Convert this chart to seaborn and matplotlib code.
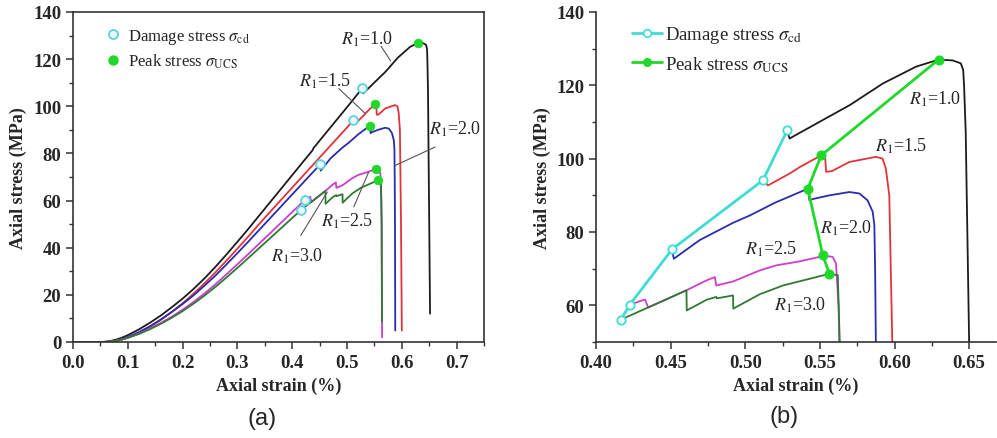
import numpy as np
import pandas as pd
import matplotlib
matplotlib.use('Agg')
import matplotlib.pyplot as plt
import seaborn as sns
from matplotlib.lines import Line2D
from matplotlib.ticker import MultipleLocator

sns.set_style('ticks')
plt.rcParams['font.family'] = ['Liberation Serif', 'DejaVu Serif']
plt.rcParams['mathtext.fontset'] = 'stix'

# ---------------- data ----------------
r_labels = ['1.0', '1.5', '2.0', '2.5', '3.0']

strain_r10 = [0.0, 0.05, 0.06, 0.07, 0.08, 0.09, 0.10, 0.12, 0.14, 0.16, 0.18, 0.20, 0.22,
              0.24, 0.26, 0.28, 0.30, 0.32, 0.34, 0.36, 0.38, 0.40, 0.42, 0.437, 0.439,
              0.47, 0.50, 0.5281, 0.5297, 0.5478, 0.570, 0.5922, 0.6145, 0.6295, 0.6389,
              0.6444, 0.646, 0.6466, 0.6477, 0.650, 0.6515]
stress_r10 = [0.0, 0.0, 0.13, 0.5, 1.1, 1.9, 2.9, 5.3, 8.1, 11.2, 14.7, 18.4, 22.5,
              27.0, 31.9, 37.1, 42.5, 48.0, 53.7, 59.4, 65.1, 70.8, 76.5, 81.3, 82.3,
              91.1, 99.6, 107.7, 105.5, 109.6, 114.6, 120.5, 125.1, 127.0, 126.8,
              126.0, 124.2, 120.0, 107.3, 50.0, 12.0]

strain_r15 = [0.0, 0.06, 0.07, 0.08, 0.09, 0.10, 0.12, 0.14, 0.16, 0.18, 0.20, 0.22, 0.24,
              0.26, 0.28, 0.30, 0.32, 0.34, 0.36, 0.38, 0.40, 0.42, 0.44, 0.46, 0.48, 0.50,
              0.5118, 0.5152, 0.530, 0.5365, 0.545, 0.5509, 0.5535, 0.5542, 0.558, 0.5698,
              0.5876, 0.592, 0.5942, 0.5965, 0.5985, 0.600]
stress_r15 = [0.0, 0.0, 0.13, 0.48, 1.03, 1.78, 3.78, 6.33, 9.33, 12.7, 16.4, 20.5, 24.9,
              29.6, 34.5, 39.6, 44.8, 50.1, 55.3, 60.4, 65.5, 70.6, 75.7, 80.8, 85.9, 91.0,
              94.1, 92.7, 96.0, 97.7, 99.6, 100.9, 100.5, 96.4, 96.6, 99.1,
              100.5, 100.0, 97.3, 90.0, 50.0, 4.9]

strain_r20 = [0.0, 0.055, 0.065, 0.075, 0.085, 0.10, 0.12, 0.14, 0.16, 0.18, 0.20, 0.22,
              0.24, 0.26, 0.28, 0.30, 0.32, 0.34, 0.36, 0.38, 0.40, 0.42, 0.44, 0.451,
              0.4521, 0.4695, 0.4918, 0.503, 0.52, 0.535, 0.5419, 0.543, 0.5454, 0.5564,
              0.5698, 0.5765, 0.582, 0.5854, 0.5865, 0.587, 0.5875, 0.588]
stress_r20 = [0.0, 0.0, 0.12, 0.47, 1.01, 2.15, 4.16, 6.63, 9.5, 12.7, 16.1, 19.8,
              23.9, 28.2, 32.9, 37.7, 42.6, 47.6, 52.6, 57.6, 62.6, 67.6, 72.6, 75.3,
              72.7, 77.8, 82.5, 84.5, 88.0, 90.6, 91.8, 88.6, 89.0, 90.0,
              90.9, 90.5, 88.6, 85.5, 81.8, 70.0, 50.0, 4.9]

strain_r25 = [0.0, 0.055, 0.065, 0.075, 0.085, 0.10, 0.12, 0.14, 0.16, 0.18, 0.20, 0.22,
              0.24, 0.26, 0.28, 0.30, 0.32, 0.34, 0.36, 0.38, 0.40, 0.4227,
              0.4328, 0.435, 0.4606, 0.474, 0.4796, 0.4806, 0.4918, 0.5096, 0.5208, 0.5365,
              0.5497, 0.552, 0.5586, 0.5608, 0.5625, 0.563, 0.564]
stress_r25 = [0.0, 0.0, 0.11, 0.4, 0.86, 1.83, 3.54, 5.64, 8.04, 10.7, 13.7, 17.0,
              20.6, 24.5, 28.7, 33.0, 37.3, 41.8, 46.2, 50.7, 55.1, 60.2,
              61.6, 59.4, 64.1, 66.8, 67.7, 65.4, 66.5, 69.5, 70.9, 72.0,
              73.2, 73.6, 73.2, 71.4, 60.0, 50.0, 2.0]

strain_r30 = [0.0, 0.05, 0.065, 0.075, 0.085, 0.10, 0.12, 0.14, 0.16, 0.18, 0.20, 0.22,
              0.24, 0.26, 0.28, 0.30, 0.32, 0.34, 0.36, 0.38, 0.40, 0.4167,
              0.4606, 0.4608, 0.474, 0.4806, 0.481, 0.4918, 0.492, 0.5096, 0.5252, 0.5564,
              0.562, 0.5633, 0.5637]
stress_r30 = [0.0, 0.0, 0.1, 0.38, 0.82, 1.75, 3.38, 5.38, 7.67, 10.25, 13.1, 16.25,
              19.7, 23.4, 27.35, 31.45, 35.65, 39.9, 44.1, 48.35, 52.6, 56.1,
              64.1, 58.6, 61.5, 62.3, 61.9, 62.7, 59.1, 63.0, 65.4, 68.6,
              68.2, 50.0, 8.5]

# damage stress (sigma_cd) and peak stress (sigma_UCS) for R1 = 1.0 ... 3.0
cd_strain = [0.5281, 0.5118, 0.4510, 0.4227, 0.4167]
cd_stress = [107.7, 94.1, 75.3, 60.2, 56.1]
ucs_strain = [0.6295, 0.5509, 0.5419, 0.5520, 0.5564]
ucs_stress = [127.0, 100.9, 91.8, 73.6, 68.6]

curves = [(strain_r10, stress_r10), (strain_r15, stress_r15), (strain_r20, stress_r20),
          (strain_r25, stress_r25), (strain_r30, stress_r30)]
colors = ['#1c1c1c', '#e0343a', '#2b2bb0', '#cc3fcc', '#2f7a33']
cyan = '#3fdcd6'
green = '#1fd82a'

# ---------------- figure ----------------
fig = plt.figure(figsize=(9.97, 4.39), dpi=100)
axA = fig.add_axes([0.0732, 0.2187, 0.4123, 0.7517])
axB = fig.add_axes([0.5978, 0.2187, 0.4012, 0.7517])

for (xs, ys), c in zip(curves, colors):
    df = pd.DataFrame({'strain': xs, 'stress': ys})
    sns.lineplot(data=df, x='strain', y='stress', ax=axA, color=c, lw=1.3,
                 sort=False, estimator=None, legend=False)

pts = pd.DataFrame({'cd_x': cd_strain, 'cd_y': cd_stress, 'u_x': ucs_strain, 'u_y': ucs_stress})
sns.scatterplot(data=pts, x='cd_x', y='cd_y', ax=axA, s=40, facecolor='#e8fbfb',
                edgecolor='#5fd0dc', linewidth=1.3, zorder=5, legend=False)
sns.scatterplot(data=pts, x='u_x', y='u_y', ax=axA, s=40, color=green,
                edgecolor=green, linewidth=0.5, zorder=6, legend=False)

# panel b: post-damage part of each curve
for i, ((xs, ys), c) in enumerate(zip(curves, colors)):
    df = pd.DataFrame({'strain': xs, 'stress': ys})
    df = df[df['strain'] >= cd_strain[i] - 1e-9]
    sns.lineplot(data=df, x='strain', y='stress', ax=axB, color=c, lw=1.3,
                 sort=False, estimator=None, legend=False)

sns.lineplot(data=pts, x='cd_x', y='cd_y', ax=axB, color=cyan, lw=2.0, sort=False,
             estimator=None, marker='o', markersize=6, markerfacecolor='white',
             markeredgecolor=cyan, markeredgewidth=1.3, zorder=5, legend=False)
sns.lineplot(data=pts, x='u_x', y='u_y', ax=axB, color=green, lw=2.0, sort=False,
             estimator=None, marker='o', markersize=6.5, markerfacecolor=green,
             markeredgecolor=green, zorder=6, legend=False)

# ---------------- axes styling ----------------
tick_fs = 13.5
lab_fs = 13
for ax in (axA, axB):
    ax.tick_params(axis='both', which='major', direction='out', length=5, width=1.1,
                   labelsize=tick_fs, color='#333333')
    ax.tick_params(axis='both', which='minor', direction='out', length=3, width=1.0,
                   color='#333333')
    ax.set_xlabel('Axial strain (%)', fontsize=lab_fs, fontweight='bold', labelpad=4)
    ax.set_ylabel('Axial stress (MPa)', fontsize=lab_fs, fontweight='bold', labelpad=4)

axA.set_xlim(0, 0.75)
axA.set_ylim(0, 140)
axA.xaxis.set_minor_locator(MultipleLocator(0.05))
axA.yaxis.set_minor_locator(MultipleLocator(10))
axA.set_xticks(np.arange(0, 0.71, 0.1))
axA.set_xticklabels([f'{v:.1f}' for v in np.arange(0, 0.71, 0.1)], fontweight='bold', fontsize=tick_fs)
axA.set_yticks(np.arange(0, 141, 20))
axA.set_yticklabels([f'{int(v)}' for v in np.arange(0, 141, 20)], fontweight='bold', fontsize=tick_fs)
for s in axA.spines.values():
    s.set_linewidth(1.2)
    s.set_color('#333333')

axB.set_xlim(0.40, 0.668)
axB.set_ylim(50, 140)
axB.set_xticks(np.arange(0.40, 0.651, 0.05))
axB.set_xticklabels([f'{v:.2f}' for v in np.arange(0.40, 0.651, 0.05)], fontweight='bold', fontsize=tick_fs)
axB.xaxis.set_minor_locator(MultipleLocator(0.025))
axB.set_yticks(np.arange(60, 141, 20))
axB.set_yticklabels([f'{int(v)}' for v in np.arange(60, 141, 20)], fontweight='bold', fontsize=tick_fs)
axB.yaxis.set_minor_locator(MultipleLocator(10))
axB.spines['top'].set_visible(False)
axB.spines['right'].set_visible(False)
for s in ('left', 'bottom'):
    axB.spines[s].set_linewidth(1.2)
    axB.spines[s].set_color('#333333')

# ---------------- legends ----------------
hA = [Line2D([], [], ls='none', marker='o', markersize=6.5, markerfacecolor='#e8fbfb',
             markeredgecolor='#5fd0dc', markeredgewidth=1.3),
      Line2D([], [], ls='none', marker='o', markersize=6.5, color=green)]
axA.legend(hA, [r'Damage stress $\sigma_{\rm cd}$', r'Peak stress $\sigma_{\rm UCS}$'],
           loc='upper left', bbox_to_anchor=(0.06, 0.975), frameon=False, fontsize=12,
           handletextpad=0.4, labelspacing=0.35, borderaxespad=0, handlelength=1.0)

hB = [Line2D([], [], color=cyan, lw=2.0, marker='o', markersize=5.5, markerfacecolor='white',
             markeredgecolor=cyan, markeredgewidth=1.2),
      Line2D([], [], color=green, lw=2.0, marker='o', markersize=5.5, markerfacecolor=green)]
axB.legend(hB, [r'Damage stress $\sigma_{\rm cd}$', r'Peak stress $\sigma_{\rm UCS}$'],
           loc='upper left', bbox_to_anchor=(0.07, 0.985), frameon=False, fontsize=13.5,
           handletextpad=0.2, labelspacing=0.45, borderaxespad=0, handlelength=1.6)

# ---------------- annotations ----------------
ann_fs = 13
lead = dict(color='#555555', lw=0.8)
axA.text(0.536, 128.7, r'$R_{\rm 1}$=1.0', fontsize=ann_fs, ha='center', va='center')
axA.plot([0.562, 0.5795], [125.5, 119.3], **lead)
axA.text(0.46, 110.9, r'$R_{\rm 1}$=1.5', fontsize=ann_fs, ha='center', va='center')
axA.plot([0.485, 0.5335], [107.5, 96.9], **lead)
axA.text(0.6975, 90.5, r'$R_{\rm 1}$=2.0', fontsize=ann_fs, ha='center', va='center')
axA.plot([0.6606, 0.588], [82.7, 74.9], **lead)
axA.text(0.50, 51.6, r'$R_{\rm 1}$=2.5', fontsize=ann_fs, ha='center', va='center')
axA.plot([0.5123, 0.5395], [57.3, 72.1], **lead)
axA.text(0.4095, 36.7, r'$R_{\rm 1}$=3.0', fontsize=ann_fs, ha='center', va='center')
axA.plot([0.4155, 0.464], [45.2, 63.6], **lead)

axB.text(0.6273, 116.4, r'$R_{\rm 1}$=1.0', fontsize=ann_fs, ha='center', va='center')
axB.text(0.6045, 103.6, r'$R_{\rm 1}$=1.5', fontsize=ann_fs, ha='center', va='center')
axB.text(0.5678, 81.4, r'$R_{\rm 1}$=2.0', fontsize=ann_fs, ha='center', va='center')
axB.text(0.5176, 75.5, r'$R_{\rm 1}$=2.5', fontsize=ann_fs, ha='center', va='center')
axB.text(0.537, 60.2, r'$R_{\rm 1}$=3.0', fontsize=ann_fs, ha='center', va='center')

# ---------------- panel captions ----------------
fig.text(262 / 997, 1 - 419 / 439, '(a)', fontsize=17, ha='center', va='center',
         family=['Liberation Sans', 'DejaVu Sans'])
fig.text(784 / 997, 1 - 417 / 439, '(b)', fontsize=17, ha='center', va='center',
         family=['Liberation Sans', 'DejaVu Sans'])

fig.savefig('out.png', dpi=100)
